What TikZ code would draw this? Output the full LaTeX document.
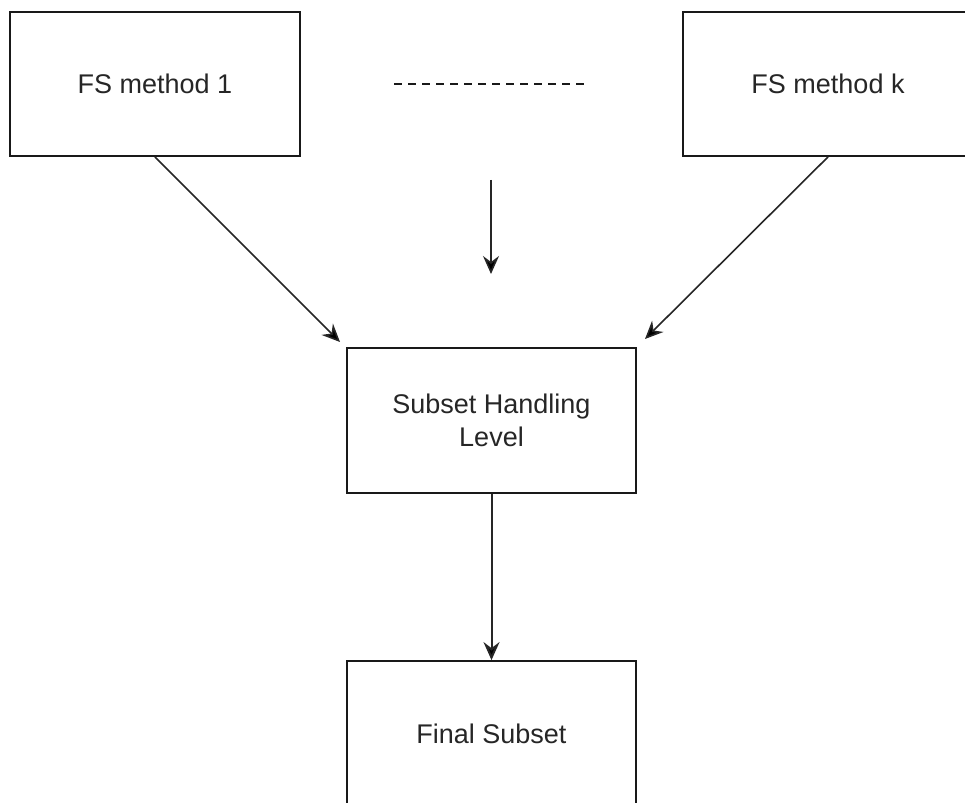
\documentclass[tikz,border=0pt]{standalone}
\usepackage{fontspec}
\setmainfont{Liberation Sans}
\usetikzlibrary{arrows.meta}
\begin{document}
\begin{tikzpicture}[x=1pt,y=-1pt,
  box/.style={draw=black!90, line width=1.8pt, minimum width=290pt, minimum height=144pt,
    inner sep=0pt, align=center, font=\fontsize{27}{33}\selectfont, text=black!85},
  conn/.style={draw=black!85, line width=1.6pt, -{Stealth[length=18pt,width=16pt,inset=6pt,fill=black]}},
  dots/.style={draw=black!90, line width=1.8pt, dash pattern=on 8pt off 6pt}]
\useasboundingbox (0,0) rectangle (965,802);
\clip (0,0) rectangle (965,802);
\fill[white] (0,0) rectangle (965,802);
% source boxes
\node[box] (m1) at (155,84) {FS method 1};
\node[box] (mk) at (828,84) {FS method k};
% intermediate and final stages
\node[box, minimum width=289pt, minimum height=145pt] (shl) at (491.5,420.5) {Subset Handling\\Level};
\node[box, minimum width=289pt, minimum height=145pt] (fin) at (491.5,733.5) {Final Subset};
% free ends of the connectors
\coordinate (dl) at (394,84);
\coordinate (dr) at (589,84);
\coordinate (vtop) at (491,180);
\coordinate (vtip) at (491,274);
\coordinate (ltip) at (340,342);
\coordinate (rtip) at (645,339);
% ellipsis between the methods
\draw[dots] (dl) -- (dr);
% connectors
\draw[conn] (m1.south) -- (ltip);
\draw[conn] (mk.south) -- (rtip);
\draw[conn] (vtop) -- (vtip);
\draw[conn, line width=2pt] (shl.south) -- (fin.north);
\end{tikzpicture}
\end{document}
